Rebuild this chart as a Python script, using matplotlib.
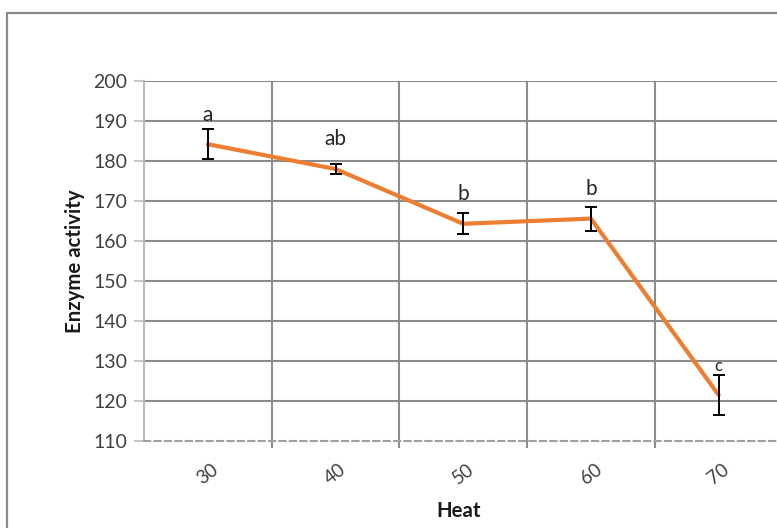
import matplotlib.pyplot as plt
from matplotlib.patches import Rectangle
from matplotlib.transforms import ScaledTranslation

plt.rcParams['font.family'] = ['Lato', 'DejaVu Sans']

heat = ['30', '40', '50', '60', '70']
activity = [184.2, 178.0, 164.3, 165.6, 121.5]
err = [3.7, 1.3, 2.6, 3.0, 5.0]
groups = ['a', 'ab', 'b', 'b', 'c']
group_sizes = [15, 15, 15, 15, 12]

W, H = 777, 528
fig = plt.figure(figsize=(W / 100, H / 100), dpi=100)

# outer chart frame (runs off the right and bottom edges)
fig.patches.append(Rectangle((7 / W, -0.1), 1.2, 1.1 - 13 / H, transform=fig.transFigure,
                             fill=False, edgecolor='#8a8a8a', linewidth=1.6, zorder=0))

ax = fig.add_axes([144 / W, 87 / H, (782.5 - 144) / W, 360 / H])
x = list(range(len(heat)))

grid_c = '#8c8c8c'
for v in range(120, 201, 10):
    ax.axhline(v, color=grid_c, linewidth=1.5, zorder=1)
for b in [0.5, 1.5, 2.5, 3.5, 4.5]:
    ax.axvline(b, color=grid_c, linewidth=1.5, zorder=1)

ax.plot(x, activity, color='#ED7D31', linewidth=3, solid_capstyle='round', zorder=3)
ax.errorbar(x, activity, yerr=err, fmt='none', ecolor='black', elinewidth=1.4,
            capsize=4, capthick=1.4, zorder=4)

for xi, yi, g, fs in zip(x, activity, groups, group_sizes):
    ax.annotate(g, (xi, yi), xytext=(0, 17), textcoords='offset points',
                ha='center', va='baseline', fontsize=fs, color='#262626', zorder=5)

ax.set_xlim(-0.5, 4.5)
ax.set_ylim(110, 200)
ax.set_yticks(range(110, 201, 10))
ax.set_xticks(x)
ax.set_xticklabels(heat, rotation=37, ha='center', fontsize=13.5, color='#404040')
shift = ScaledTranslation(-6 / 100, -3 / 100, fig.dpi_scale_trans)
for lbl in ax.get_xticklabels():
    lbl.set_transform(lbl.get_transform() + shift)
ax.set_xticks([0.5, 1.5, 2.5, 3.5], minor=True)
ax.tick_params(axis='x', which='major', length=0, pad=14)
ax.tick_params(axis='x', which='minor', length=5, width=1.5, color=grid_c, direction='out')
ax.tick_params(axis='y', length=7, width=1.2, color='#bdbdbd', labelsize=14,
               labelcolor='#404040', pad=5)
for t in ax.yaxis.get_ticklines():
    t.set_linestyle((0, (1, 1)))

for s in ['top', 'right']:
    ax.spines[s].set_visible(False)
ax.spines['left'].set_color('#bdbdbd')
ax.spines['left'].set_linestyle((0, (1, 1)))
ax.spines['left'].set_linewidth(1.5)
ax.spines['bottom'].set_color('#a0a0a0')
ax.spines['bottom'].set_linestyle((0, (3, 2)))
ax.spines['bottom'].set_linewidth(1.5)

fig.text(75 / W, 1 - 261 / H, 'Enzyme activity', rotation=90, ha='center', va='center',
         fontsize=14.7, fontweight='bold', color='#1a1a1a')
fig.text(459 / W, 1 - 511 / H, 'Heat', ha='center', va='center',
         fontsize=14.7, fontweight='bold', color='#1a1a1a')

fig.savefig('out.png', dpi=100)
